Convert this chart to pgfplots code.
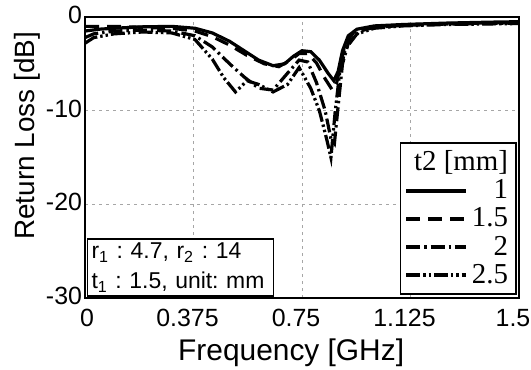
\documentclass[border=0pt]{standalone}
\usepackage{fontspec}
\setmainfont{Liberation Sans}
\newfontfamily\timesf{Liberation Serif}
\usepackage{pgfplots}
\pgfplotsset{compat=1.18}
\frenchspacing
\begin{document}
\begin{tikzpicture}
\begin{axis}[
  at={(0,0)}, anchor=south west,
  scale only axis, width=217bp, height=140.5bp,
  xmin=0, xmax=1.5, ymin=-30, ymax=0,
  xtick={0,0.375,0.75,1.125,1.5},
  xticklabels={\hspace*{8bp}0,0.375,0.75,1.125,1.5},
  ytick={-30,-20,-10,0},
  /pgf/number format/assume math mode=true,
  tick label style={font=\fontsize{12.5}{14}\selectfont},
  xticklabel style={yshift=-2bp, xshift=-3bp},
  yticklabel style={xshift=2bp, yshift=1bp},
  tick style={draw=none},
  axis line style={line width=1.3bp},
  grid=major,
  major grid style={gray!70, dash pattern=on 1.5bp off 2bp, line width=0.4bp},
  xlabel={Frequency [GHz]},
  ylabel={Return Loss [dB]},
  xlabel style={font=\fontsize{15}{17}\selectfont, at={(axis description cs:0.475,-0.195)}, anchor=center},
  ylabel style={font=\fontsize{14}{16}\selectfont, at={(axis description cs:-0.133,0.577)}, anchor=center},
  legend cell align=right,
  legend style={at={(0.995,0.011)}, anchor=south east, draw=black, line width=0.8bp,
    font=\timesf\fontsize{14.5}{15}\selectfont, inner sep=2bp, row sep=-1bp,
    /tikz/every even column/.append style={column sep=2bp}},
  legend image code/.code={\draw[#1, line width=1.8bp] (0bp,0bp) -- (30bp,0bp);},
  every axis plot/.append style={line width=1.6bp, black},
]
\addlegendimage{empty legend}
\addlegendentry{\makebox[18bp][r]{t2 [mm]}}
\addplot[solid] coordinates {
(0,-1.5) (0.05,-1.3) (0.1,-1.2) (0.2,-1.05) (0.3,-1.0) (0.38,-1.2) (0.44,-1.7)
(0.5,-2.6) (0.55,-3.6) (0.6,-4.6) (0.65,-5.2) (0.69,-5.0) (0.72,-4.2) (0.75,-3.6)
(0.78,-3.7) (0.81,-4.6) (0.84,-6.0) (0.86,-6.8) (0.875,-5.8) (0.89,-3.6) (0.91,-2.0)
(0.94,-1.3) (1.0,-0.95) (1.1,-0.8) (1.25,-0.65) (1.4,-0.55) (1.5,-0.5)};
\addlegendentry{1}
\addplot[dash pattern=on 7bp off 4bp] coordinates {
(0,-1.0) (0.1,-1.0) (0.2,-1.1) (0.3,-1.2) (0.38,-1.5) (0.44,-2.1) (0.5,-3.0)
(0.56,-4.1) (0.62,-5.0) (0.67,-5.3) (0.71,-4.6) (0.74,-3.9) (0.77,-3.9) (0.8,-4.9)
(0.83,-6.6) (0.855,-7.8) (0.87,-7.0) (0.885,-4.8) (0.9,-2.8) (0.93,-1.6) (1.0,-1.05)
(1.1,-0.85) (1.25,-0.7) (1.5,-0.6)};
\addlegendentry{1.5}
\addplot[dash pattern=on 7bp off 2bp on 1.2bp off 2bp] coordinates {
(0,-2.2) (0.03,-1.8) (0.1,-1.5) (0.2,-1.4) (0.3,-1.5) (0.38,-2.0) (0.44,-3.2)
(0.5,-5.0) (0.55,-6.4) (0.6,-7.6) (0.65,-7.8) (0.7,-6.0) (0.74,-4.6) (0.77,-4.8)
(0.8,-7.0) (0.83,-10.0) (0.85,-13.0) (0.862,-13.5) (0.875,-9.5) (0.89,-5.0) (0.91,-2.8)
(0.95,-1.5) (1.0,-1.1) (1.1,-0.9) (1.25,-0.75) (1.5,-0.65)};
\addlegendentry{2}
\addplot[dash pattern=on 7bp off 1.5bp on 1.2bp off 1.5bp on 1.2bp off 1.5bp] coordinates {
(0,-2.8) (0.03,-2.2) (0.1,-1.8) (0.2,-1.6) (0.3,-1.7) (0.38,-2.4) (0.44,-4.5)
(0.48,-6.5) (0.52,-8.0) (0.56,-6.8) (0.6,-7.2) (0.65,-8.0) (0.7,-7.2) (0.74,-5.4)
(0.78,-7.6) (0.81,-10.0) (0.835,-13.0) (0.85,-15.0) (0.865,-10.0) (0.88,-6.0) (0.9,-3.4)
(0.94,-1.8) (1.0,-1.2) (1.1,-0.95) (1.25,-0.8) (1.5,-0.7)};
\addlegendentry{2.5}
\node[draw=black, line width=0.8bp, fill=white, anchor=south west, align=left,
  inner sep=2bp, font=\fontsize{11.5}{16}\selectfont, text width=89bp]
  at (axis description cs:0.004,0.004)
  {r\textsubscript{1} : 4.7, r\textsubscript{2} : 14\\[-1bp]t\textsubscript{1} : 1.5, unit: mm};
\end{axis}
\pgfresetboundingbox
\path[use as bounding box] (-42.5bp,-36bp) rectangle (223bp,149bp);
\end{tikzpicture}
\end{document}
